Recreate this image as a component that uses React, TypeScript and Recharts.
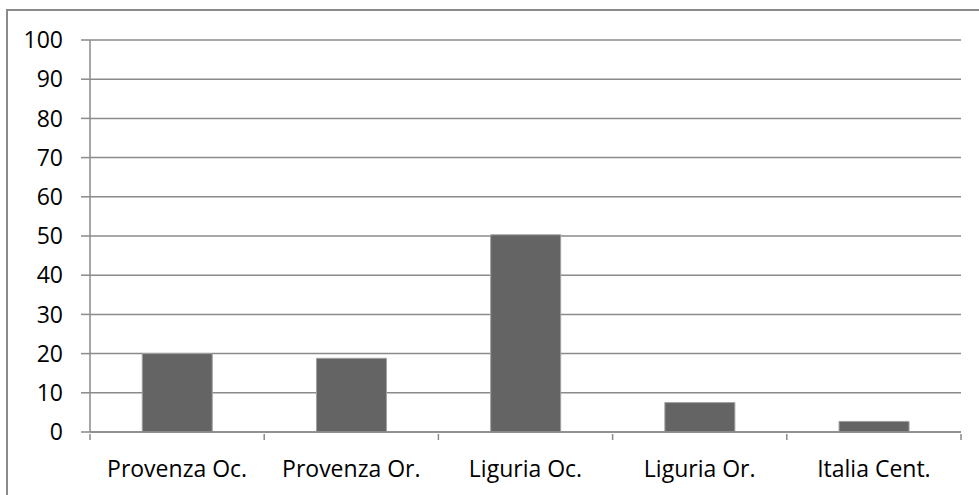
import { Bar, BarChart, CartesianGrid, XAxis, YAxis } from 'recharts';

// Distribuzione per area
const AREE = ['Provenza Oc.', 'Provenza Or.', 'Liguria Oc.', 'Liguria Or.', 'Italia Cent.'];
const VALORI = [20, 18.8, 50.3, 7.5, 2.7];
const Y_TICKS = [0, 10, 20, 30, 40, 50, 60, 70, 80, 90, 100];

const GRID = '#8a8a8a';
const FONT = '"Open Sans", sans-serif';

const data = AREE.map((area, i) => ({ area, valore: VALORI[i] }));

// etichetta + trattini sui bordi della categoria (come in Excel)
function CategoryTick(props: any) {
  const { x, y, payload, index, visibleTicksCount } = props;
  const half = payload.offset ?? 0;
  const isLast = index === visibleTicksCount - 1;
  return (
    <g>
      <line x1={x - half} x2={x - half} y1={y} y2={y + 6} stroke={GRID} strokeWidth={1.5} />
      {isLast && <line x1={x + half} x2={x + half} y1={y} y2={y + 6} stroke={GRID} strokeWidth={1.5} />}
      <text x={x} y={y + 27} dy="0.71em" textAnchor="middle" fill="#000" fontSize={23} fontFamily={FONT}>
        {payload.value}
      </text>
    </g>
  );
}

export default function App() {
  return (
    <div
      style={{
        position: 'absolute',
        left: 0,
        top: 0,
        width: 979,
        height: 495,
        overflow: 'hidden',
        background: '#fff',
      }}
    >
      <div
        style={{
          position: 'absolute',
          left: 6,
          top: 9,
          width: 1100,
          height: 600,
          borderTop: `2px solid ${GRID}`,
          borderLeft: `2px solid ${GRID}`,
        }}
      />
      <BarChart
        width={979}
        height={495}
        data={data}
        margin={{ top: 40, right: 18, bottom: 23, left: 0 }}
        barCategoryGap="30%"
        style={{ position: 'absolute', left: 0, top: 0, fontFamily: FONT }}
      >
        <CartesianGrid stroke={GRID} strokeWidth={1.5} vertical={false} />
        <XAxis
          dataKey="area"
          tickLine={false}
          tickSize={0}
          axisLine={{ stroke: GRID, strokeWidth: 1.5 }}
          tick={<CategoryTick />}
          interval={0}
          height={40}
        />
        <YAxis
          domain={[0, 100]}
          ticks={Y_TICKS}
          width={90}
          tickSize={9}
          tickMargin={18}
          tickLine={{ stroke: GRID, strokeWidth: 1.5 }}
          axisLine={{ stroke: GRID, strokeWidth: 1.5 }}
          tick={{ fill: '#000', fontSize: 23, fontFamily: FONT }}
          interval={0}
        />
        <Bar dataKey="valore" fill="#646464" stroke="#a0a0a0" strokeWidth={1} isAnimationActive={false} />
      </BarChart>
    </div>
  );
}
